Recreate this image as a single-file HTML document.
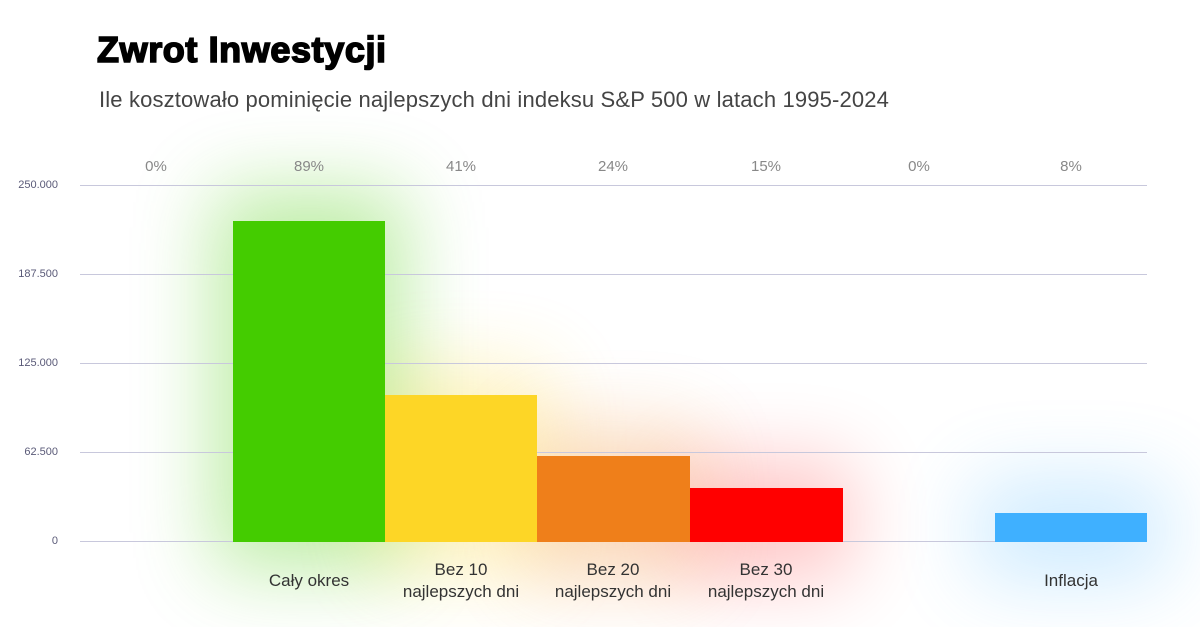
<!DOCTYPE html>
<html><head><meta charset="utf-8"><style>
body{margin:0;width:1200px;height:627px;background:#fff;position:relative;overflow:hidden;font-family:"Liberation Sans",sans-serif}
.a{position:absolute}
.g{position:absolute;filter:blur(40px);opacity:.35}
.line{position:absolute;left:80px;width:1067px;height:1px;background:#c8c8dc}
.yl{position:absolute;left:0;width:58px;text-align:right;font-size:11px;color:#5a5a78}
.p{position:absolute;width:152px;text-align:center;font-size:15px;color:#888;top:158px}
.c{position:absolute;width:160px;text-align:center;font-size:17px;color:#333;line-height:22px}
</style></head><body>
<div class="g" style="left:213px;top:190px;width:192px;height:380px;background:#44cc00;opacity:.35"></div>
<div class="g" style="left:375px;top:370px;width:172px;height:200px;background:#fdd626;opacity:.3"></div>
<div class="g" style="left:527px;top:430px;width:172px;height:150px;background:#ef7f1a;opacity:.3"></div>
<div class="g" style="left:680px;top:460px;width:172px;height:120px;background:#ff0000;opacity:.22"></div>
<div class="g" style="left:975px;top:480px;width:192px;height:100px;background:#3fb0ff;opacity:.25"></div>
<div class="a" style="left:97px;top:29px;font-size:36px;font-weight:900;color:#000;letter-spacing:0.6px;-webkit-text-stroke:1.6px #000">Zwrot Inwestycji</div>
<div class="a" style="left:99px;top:87px;font-size:22px;color:#444;letter-spacing:0.15px">Ile kosztowało pominięcie najlepszych dni indeksu S&amp;P 500 w latach 1995-2024</div>
<div class="line" style="top:185px"></div><div class="yl" style="top:179px">250.000</div>
<div class="line" style="top:274px"></div><div class="yl" style="top:268px">187.500</div>
<div class="line" style="top:363px"></div><div class="yl" style="top:357px">125.000</div>
<div class="line" style="top:452px"></div><div class="yl" style="top:446px">62.500</div>
<div class="line" style="top:541px"></div><div class="yl" style="top:535px">0</div>
<div class="p" style="left:80px">0%</div>
<div class="p" style="left:233px">89%</div>
<div class="p" style="left:385px">41%</div>
<div class="p" style="left:537px">24%</div>
<div class="p" style="left:690px">15%</div>
<div class="p" style="left:843px">0%</div>
<div class="p" style="left:995px">8%</div>
<div class="a" style="left:233px;top:221px;width:152px;height:321px;background:#44cc00"></div>
<div class="a" style="left:385px;top:395px;width:152px;height:147px;background:#fdd626"></div>
<div class="a" style="left:537px;top:456px;width:153px;height:86px;background:#ef7f1a"></div>
<div class="a" style="left:690px;top:488px;width:153px;height:54px;background:#ff0000"></div>
<div class="a" style="left:995px;top:513px;width:152px;height:29px;background:#3fb0ff"></div>
<div class="c" style="left:229px;top:570px">Cały okres</div>
<div class="c" style="left:381px;top:559px">Bez 10<br>najlepszych dni</div>
<div class="c" style="left:533px;top:559px">Bez 20<br>najlepszych dni</div>
<div class="c" style="left:686px;top:559px">Bez 30<br>najlepszych dni</div>
<div class="c" style="left:991px;top:570px">Inflacja</div>
</body></html>
